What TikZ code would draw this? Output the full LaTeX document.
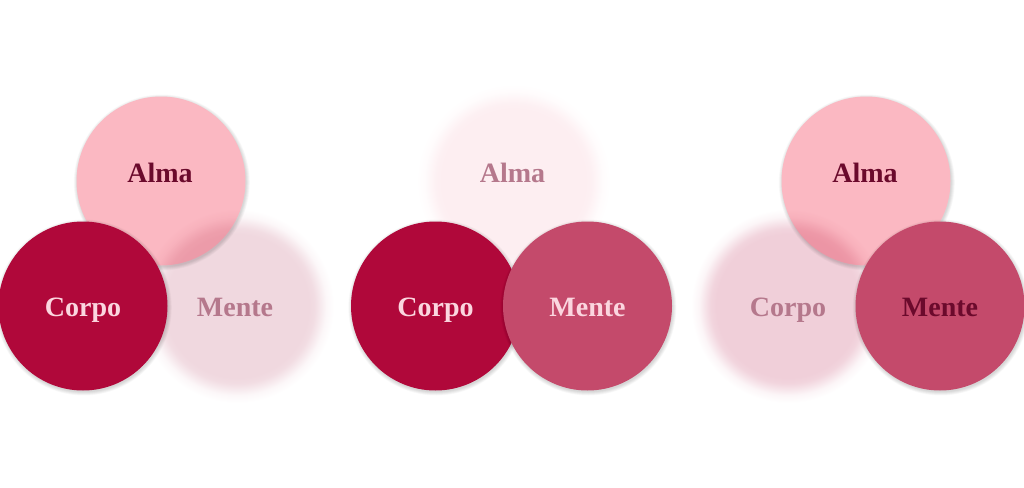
\documentclass[tikz,border=0pt]{standalone}
\usepackage{fontspec}
\setmainfont{Liberation Serif}
\usetikzlibrary{calc}
\definecolor{corpoC}{HTML}{B0083A}
\definecolor{almaC}{HTML}{FBB8C2}
\definecolor{menteC}{HTML}{C44A6B}
\definecolor{darkT}{HTML}{6B0A2C}
\definecolor{lightT}{HTML}{FBD6DF}
\definecolor{fadeT}{HTML}{B5788C}
\definecolor{menteF}{HTML}{F0D8DF}
\definecolor{almaF}{HTML}{FDEEF1}
\definecolor{corpoF}{HTML}{F0CFD9}
\pgfdeclareradialshading{blurMente}{\pgfpoint{0bp}{0bp}}{color(0bp)=(menteF); color(18.5bp)=(menteF); color(20bp)=(menteF!88!white); color(21.5bp)=(menteF!55!white); color(23bp)=(menteF!20!white); color(25bp)=(white); color(50bp)=(white)}
\pgfdeclareradialshading{blurAlma}{\pgfpoint{0bp}{0bp}}{color(0bp)=(almaF); color(18.5bp)=(almaF); color(20bp)=(almaF!88!white); color(21.5bp)=(almaF!55!white); color(23bp)=(almaF!20!white); color(25bp)=(white); color(50bp)=(white)}
\pgfdeclareradialshading{blurCorpo}{\pgfpoint{0bp}{0bp}}{color(0bp)=(corpoF); color(18.5bp)=(corpoF); color(20bp)=(corpoF!88!white); color(21.5bp)=(corpoF!55!white); color(23bp)=(corpoF!20!white); color(25bp)=(white); color(50bp)=(white)}
\newcommand\discShadow[1]{\foreach \k in {1,...,8}{\fill[black,opacity=0.018] ($(#1)+(0.8,1.5)$) circle ({84pt+0.5pt*\k});}}
\tikzset{
  disc/.style={circle, minimum size=169pt, inner sep=0pt, draw=none},
  blurdisc/.style={blend mode=multiply},
  lbl/.style={anchor=base, font=\bfseries\fontsize{28}{30}\selectfont},
}
\begin{document}
\begin{tikzpicture}[x=1pt,y=-1pt]
\useasboundingbox (0,0) rectangle (1024,487);
\fill[white] (0,0) rectangle (1024,487);
% ---------- group 1 ----------
\coordinate (A1) at (161,181);
\coordinate (C1) at (83,306);
\coordinate (M1) at (237,306);
\discShadow{A1}
\node[disc, fill=almaC] (almaDisc1) at (A1) {};
\shade[shading=blurMente, blurdisc] (M1) circle (97pt);
\discShadow{C1}
\node[disc, fill=corpoC] (corpoDisc1) at (C1) {};
\node[lbl, text=darkT] (almaT1) at (160,182) {Alma};
\node[lbl, text=lightT] (corpoT1) at (83,316) {Corpo};
\node[lbl, text=fadeT] (menteT1) at (235,316) {Mente};
% ---------- group 2 ----------
\coordinate (A2) at (513.5,181);
\coordinate (C2) at (435.5,306);
\coordinate (M2) at (587.5,306);
\shade[shading=blurAlma, blurdisc] (A2) circle (97pt);
\discShadow{C2}
\node[disc, fill=corpoC] (corpoDisc2) at (C2) {};
\discShadow{M2}
\node[disc, fill=menteC] (menteDisc2) at (M2) {};
\node[lbl, text=fadeT] (almaT2) at (512.5,182) {Alma};
\node[lbl, text=lightT] (corpoT2) at (435.5,316) {Corpo};
\node[lbl, text=lightT] (menteT2) at (587.5,316) {Mente};
% ---------- group 3 ----------
\coordinate (A3) at (866,181);
\coordinate (C3) at (788,306);
\coordinate (M3) at (940,306);
\discShadow{A3}
\node[disc, fill=almaC] (almaDisc3) at (A3) {};
\shade[shading=blurCorpo, blurdisc] (C3) circle (97pt);
\discShadow{M3}
\node[disc, fill=menteC] (menteDisc3) at (M3) {};
\node[lbl, text=darkT] (almaT3) at (865,182) {Alma};
\node[lbl, text=fadeT] (corpoT3) at (788,316) {Corpo};
\node[lbl, text=darkT] (menteT3) at (940,316) {Mente};
\end{tikzpicture}
\end{document}
